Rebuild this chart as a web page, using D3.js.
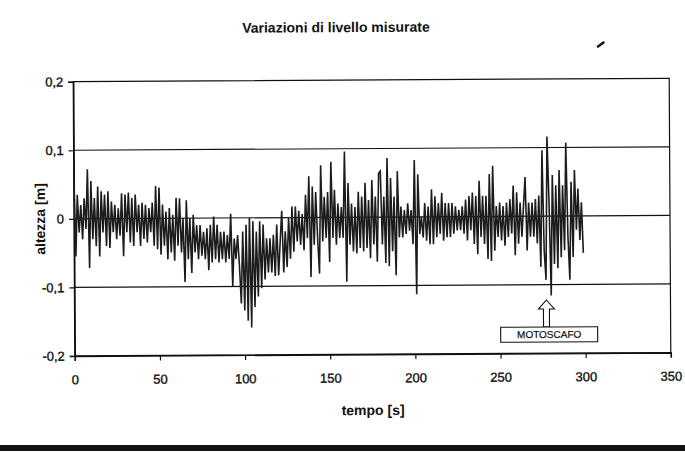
<!DOCTYPE html>
<html>
<head>
<meta charset="utf-8">
<script src="https://cdn.jsdelivr.net/npm/d3@7"></script>
<style>
  html, body { margin: 0; padding: 0; background: #fff; }
  svg { display: block; }
  .lbl { font-family: "Liberation Sans", Arial, sans-serif; fill: #111; }
  .narrow { font-family: "Liberation Sans Narrow", "Arial Narrow", "Liberation Sans", Arial, sans-serif; }
</style>
</head>
<body>
<svg id="chart" width="685" height="454"></svg>
<script>
// Measured level variations, one sample per second (metres)
const startTime = 0;
const stepSeconds = 1;
const levels = [
  0.065, -0.055, 0.035, -0.02, 0.02, -0.03, 0.03, -0.015, 0.072, -0.072,
  0.055, -0.03, 0.03, -0.04, 0.047, -0.055, 0.04, -0.02, 0.035, -0.04,
  0.04, -0.043, 0.025, -0.02, 0.02, -0.03, 0.015, -0.025, 0.037, -0.055,
  0.035, -0.02, 0.038, -0.035, 0.03, -0.04, 0.035, -0.02, 0.02, -0.04,
  0.023, -0.03, 0.02, -0.035, 0.015, -0.02, 0.023, -0.04, 0.047, -0.045,
  0.045, -0.053, 0.02, -0.04, 0.01, -0.06, 0.015, -0.05, 0.005, -0.062,
  0.03, -0.04, 0.029, -0.05, 0.0, -0.093, 0.026, -0.06, 0.0, -0.08,
  0.005, -0.05, -0.01, -0.06, -0.01, -0.055, -0.02, -0.06, -0.015, -0.076,
  -0.01, -0.065, 0.002, -0.06, -0.01, -0.065, -0.02, -0.06, -0.02, -0.065,
  -0.025, -0.06, 0.006, -0.1, -0.03, -0.06, -0.025, -0.07, -0.125, -0.02,
  -0.135, -0.01, -0.15, 0.0, -0.16, -0.005, -0.13, -0.02, -0.115, -0.005,
  -0.103, -0.01, -0.09, -0.03, -0.08, -0.03, -0.08, -0.025, -0.085, -0.01,
  -0.084, -0.035, 0.01, -0.08, -0.02, -0.072, 0.0, -0.06, 0.016, -0.05,
  0.016, -0.035, 0.01, -0.04, 0.005, -0.048, 0.033, -0.03, 0.06, -0.087,
  0.045, -0.04, 0.037, -0.03, -0.082, 0.076, -0.035, 0.03, -0.03, 0.037,
  -0.065, 0.081, -0.03, 0.04, -0.04, 0.02, -0.03, 0.015, -0.03, 0.096,
  -0.094, 0.05, -0.04, 0.02, -0.05, 0.015, -0.053, 0.037, -0.045, 0.03,
  -0.05, 0.05, -0.045, 0.025, -0.06, 0.054, -0.04, 0.03, -0.065, 0.064,
  0.067, -0.04, 0.03, -0.067, 0.086, -0.072, 0.057, -0.05, 0.03, -0.085,
  0.067, -0.03, 0.015, -0.03, 0.01, -0.025, 0.02, -0.02, 0.01, -0.04,
  0.083, -0.113, 0.062, -0.025, 0.0, -0.03, 0.02, -0.035, 0.015, -0.04,
  0.04, -0.04, 0.03, -0.03, 0.02, -0.025, 0.035, -0.035, 0.02, -0.03,
  0.02, -0.03, 0.02, -0.025, 0.015, -0.02, 0.01, -0.02, 0.015, -0.025,
  0.025, -0.035, 0.03, -0.02, 0.035, -0.04, 0.03, -0.055, 0.052, -0.03,
  0.03, -0.04, 0.03, -0.062, 0.062, -0.065, 0.074, -0.05, 0.015, -0.03,
  0.02, -0.035, 0.015, -0.043, 0.02, -0.03, 0.025, -0.025, 0.045, -0.057,
  0.035, -0.04, 0.02, -0.03, 0.015, 0.057, -0.05, 0.02, -0.03, 0.02,
  -0.03, 0.025, -0.04, 0.03, -0.074, 0.096, -0.05, -0.093, 0.116, 0.02,
  -0.116, 0.06, -0.07, 0.045, -0.076, 0.067, -0.06, 0.045, -0.05, 0.107,
  -0.03, -0.093, 0.05, -0.06, 0.067, -0.02, 0.04, -0.035, 0.02, -0.054
];

const xTicks = [0, 50, 100, 150, 200, 250, 300, 350];
const yTicks = [-0.2, -0.1, 0, 0.1, 0.2];
const yTickLabels = ["-0,2", "-0,1", "0", "0,1", "0,2"];
const titleText = "Variazioni di livello misurate";
const xTitle = "tempo [s]";
const yTitle = "altezza [m]";
const eventLabel = "MOTOSCAFO";
const eventTime = 278;

const svg = d3.select("#chart");
const W = 685, H = 454;
const plotLeft = 74, plotRight = 670, plotTop = 80, plotBottom = 354.2;

const x = d3.scaleLinear().domain([0, 350]).range([plotLeft, plotRight]);
const y = d3.scaleLinear().domain([-0.2, 0.2]).range([plotBottom, plotTop]);

// the whole page is very slightly tilted
const g = svg.append("g").attr("transform", `rotate(-0.33, ${(plotLeft + plotRight) / 2}, ${y(0)})`);

// title
g.append("text").attr("class", "lbl narrow")
  .attr("x", 337).attr("y", 32).attr("text-anchor", "middle")
  .attr("font-size", 14).attr("font-weight", "bold")
  .text(titleText);

// gridlines
g.append("g").selectAll("line").data(yTicks.filter(v => v > -0.2 && v < 0.2)).join("line")
  .attr("x1", plotLeft).attr("x2", plotRight)
  .attr("y1", d => y(d)).attr("y2", d => y(d))
  .attr("stroke", "#111").attr("stroke-width", 1.2);

// plot frame
g.append("rect").attr("x", plotLeft).attr("y", plotTop)
  .attr("width", plotRight - plotLeft).attr("height", plotBottom - plotTop)
  .attr("fill", "none").attr("stroke", "#111").attr("stroke-width", 1.2);

// axes
const xAxis = d3.axisBottom(x).tickValues(xTicks).tickSize(5).tickPadding(14).tickFormat(d3.format("d"));
const yAxis = d3.axisLeft(y).tickValues(yTicks).tickSize(5).tickPadding(5)
  .tickFormat((d, i) => yTickLabels[i]);

const gx = g.append("g").attr("transform", `translate(0,${plotBottom})`).call(xAxis);
const gy = g.append("g").attr("transform", `translate(${plotLeft},0)`).call(yAxis);
[gx, gy].forEach(a => {
  a.select(".domain").attr("stroke", "#111").attr("stroke-width", 1.5);
  a.selectAll(".tick line").attr("stroke", "#111").attr("stroke-width", 1.2);
  a.selectAll(".tick text").attr("class", "lbl").attr("font-size", 13).attr("fill", "#111")
    .attr("stroke", "#111").attr("stroke-width", 0.35);
});

// series
const series = levels.map((v, i) => ({ t: startTime + i * stepSeconds, v }));
const line = d3.line().x(d => x(d.t)).y(d => y(d.v));
g.append("path").datum(series)
  .attr("d", line).attr("fill", "none")
  .attr("stroke", "#1c1c1c").attr("stroke-width", 1.6)
  .attr("stroke-linejoin", "miter");

// axis titles
g.append("text").attr("class", "lbl narrow")
  .attr("transform", `translate(45, ${(plotTop + plotBottom) / 2}) rotate(-90)`)
  .attr("text-anchor", "middle").attr("font-size", 14).attr("font-weight", "bold")
  .text(yTitle);
g.append("text").attr("class", "lbl narrow")
  .attr("x", (plotLeft + plotRight) / 2).attr("y", 415).attr("text-anchor", "middle")
  .attr("font-size", 14).attr("font-weight", "bold")
  .text(xTitle);

// event annotation: hollow arrow pointing at the event
const ax = x(eventTime) - 1.5;
const tipY = 301, headY = 310, boxY = 328;
g.append("path")
  .attr("d", `M${ax},${tipY} L${ax + 8},${headY} L${ax + 3},${headY} L${ax + 3},${boxY} L${ax - 3},${boxY} L${ax - 3},${headY} L${ax - 8},${headY} Z`)
  .attr("fill", "#fff").attr("stroke", "#111").attr("stroke-width", 1.1);
g.append("rect").attr("x", 500).attr("y", boxY).attr("width", 97).attr("height", 15)
  .attr("fill", "#fff").attr("stroke", "#111").attr("stroke-width", 1.1);
g.append("text").attr("class", "lbl narrow")
  .attr("x", 548.5).attr("y", boxY + 11).attr("text-anchor", "middle")
  .attr("font-size", 10).attr("stroke", "#111").attr("stroke-width", 0.2)
  .text(eventLabel);

// small pen mark near the top right
svg.append("path").attr("d", "M598,46.5 L603.5,42.5")
  .attr("stroke", "#111").attr("stroke-width", 2.6).attr("stroke-linecap", "round");

// heavy rule along the bottom edge
svg.append("rect").attr("x", 0).attr("y", 445).attr("width", W).attr("height", 6).attr("fill", "#111");
</script>
</body>
</html>
